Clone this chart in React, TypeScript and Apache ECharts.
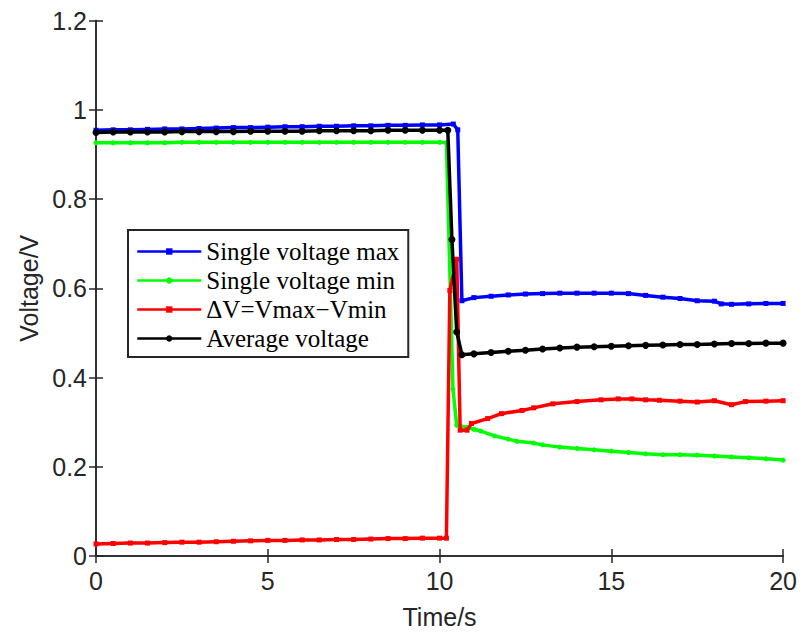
import React, { useEffect, useRef } from "react";
import * as echarts from "echarts";

// [time (s), voltage (V)] readings
const vMax: number[][] = [
  [0, 0.954], [0.5, 0.955], [1, 0.955], [1.5, 0.956], [2, 0.957], [2.5, 0.957], [3, 0.958], [3.5, 0.959],
  [4, 0.96], [4.5, 0.96], [5, 0.961], [5.5, 0.962], [6, 0.962], [6.5, 0.963], [7, 0.963], [7.5, 0.964],
  [8, 0.964], [8.5, 0.965], [9, 0.965], [9.5, 0.966], [10, 0.966], [10.4, 0.968], [10.53, 0.955],
  [10.65, 0.572], [11, 0.579], [11.5, 0.582], [12, 0.585], [12.5, 0.587], [13, 0.588], [13.5, 0.589],
  [14, 0.589], [14.5, 0.589], [15, 0.589], [15.5, 0.588], [16, 0.584], [16.5, 0.58], [17, 0.577],
  [17.5, 0.572], [18, 0.571], [18.2, 0.565], [18.5, 0.564], [19, 0.565], [19.5, 0.566], [20, 0.566],
];

const vMin: number[][] = [
  [0, 0.926], [0.5, 0.926], [1, 0.926], [1.5, 0.926], [2, 0.926], [2.5, 0.927], [3, 0.927], [3.5, 0.927],
  [4, 0.927], [4.5, 0.927], [5, 0.927], [5.5, 0.927], [6, 0.927], [6.5, 0.927], [7, 0.927], [7.5, 0.927],
  [8, 0.927], [8.5, 0.927], [9, 0.927], [9.5, 0.927], [10, 0.927], [10.2, 0.926], [10.39, 0.374],
  [10.5, 0.293], [10.8, 0.288], [11, 0.284], [11.2, 0.28], [11.6, 0.269], [12, 0.262], [12.25, 0.257],
  [12.74, 0.253], [13, 0.249], [13.5, 0.244], [14, 0.241], [14.5, 0.238], [15, 0.235], [15.5, 0.232],
  [16, 0.229], [16.5, 0.227], [17, 0.227], [17.5, 0.226], [18, 0.224], [18.5, 0.222], [19, 0.22],
  [19.5, 0.218], [20, 0.215],
];

const deltaV: number[][] = [
  [0, 0.027], [0.5, 0.028], [1, 0.029], [1.5, 0.029], [2, 0.03], [2.5, 0.031], [3, 0.031], [3.5, 0.032],
  [4, 0.033], [4.5, 0.034], [5, 0.035], [5.5, 0.035], [6, 0.036], [6.5, 0.036], [7, 0.037], [7.5, 0.037],
  [8, 0.038], [8.5, 0.039], [9, 0.039], [9.5, 0.04], [10, 0.04], [10.2, 0.04], [10.3, 0.595],
  [10.5, 0.665], [10.6, 0.282], [10.8, 0.282], [10.93, 0.297], [11.4, 0.308], [11.8, 0.319],
  [12.4, 0.326], [12.74, 0.332], [13.3, 0.341], [14, 0.346], [14.7, 0.35], [15.2, 0.352], [15.6, 0.352],
  [16, 0.35], [16.4, 0.349], [17, 0.347], [17.5, 0.345], [18, 0.348], [18.5, 0.339], [18.9, 0.346],
  [19.5, 0.347], [20, 0.348],
];

const vAvg: number[][] = [
  [0, 0.949], [0.5, 0.95], [1, 0.95], [1.5, 0.95], [2, 0.95], [2.5, 0.951], [3, 0.951], [3.5, 0.951],
  [4, 0.951], [4.5, 0.952], [5, 0.952], [5.5, 0.952], [6, 0.952], [6.5, 0.953], [7, 0.953], [7.5, 0.953],
  [8, 0.953], [8.5, 0.954], [9, 0.954], [9.5, 0.954], [10, 0.954], [10.24, 0.954], [10.36, 0.709],
  [10.5, 0.502], [10.65, 0.451], [11, 0.453], [11.5, 0.456], [12, 0.459], [12.5, 0.461], [13, 0.464],
  [13.5, 0.466], [14, 0.468], [14.5, 0.469], [15, 0.47], [15.5, 0.471], [16, 0.472], [16.5, 0.473],
  [17, 0.474], [17.5, 0.474], [18, 0.475], [18.5, 0.476], [19, 0.476], [19.5, 0.477], [20, 0.477],
];

const seriesNames = ["Single voltage max", "Single voltage min", "\u0394V=Vmax\u2212Vmin", "Average voltage"];
const seriesColors = ["#0000ff", "#00ff00", "#ff0000", "#000000"];
const seriesSymbols = ["rect", "circle", "rect", "circle"];
const seriesData = [vMax, vMin, deltaV, vAvg];

const axisColor = "#262626";
const sans = "'Liberation Sans', Arial, Helvetica, sans-serif";
const serif = "'Liberation Serif', 'Times New Roman', serif";

export default function App() {
  const ref = useRef<HTMLDivElement>(null);

  useEffect(() => {
    if (!ref.current) return;
    const chart = echarts.init(ref.current, undefined, { renderer: "svg" });
    const axisLine = { show: true, lineStyle: { color: axisColor, width: 1.5 } };
    const tick = { show: true, inside: true, length: 7, lineStyle: { color: axisColor, width: 1.5 } };
    chart.setOption({
      animation: false,
      backgroundColor: "#ffffff",
      grid: { left: 88, right: 7, top: 12, bottom: 69, containLabel: false },
      legend: {
        orient: "vertical",
        left: 120,
        top: 222,
        padding: [9, 9, 6, 8],
        itemGap: 4,
        itemWidth: 64,
        itemHeight: 8,
        borderColor: "#262626",
        borderWidth: 2,
        backgroundColor: "#ffffff",
        lineStyle: { width: 2.5 },
        textStyle: { fontFamily: serif, fontSize: 25, color: "#000000" },
        data: seriesNames,
      },
      xAxis: [
        {
          type: "value",
          min: 0,
          max: 20,
          interval: 5,
          name: "Time/s",
          nameLocation: "middle",
          nameGap: 48,
          nameTextStyle: { fontFamily: sans, fontSize: 25, color: axisColor },
          axisLine,
          axisTick: tick,
          axisLabel: { fontFamily: sans, fontSize: 25, color: axisColor, margin: 12 },
          splitLine: { show: false },
        },
        {
          type: "value",
          position: "top",
          min: 0,
          max: 20,
          interval: 5,
          axisLine,
          axisTick: tick,
          axisLabel: { show: false },
          splitLine: { show: false },
        },
      ],
      yAxis: [
        {
          type: "value",
          min: 0,
          max: 1.2,
          interval: 0.2,
          name: "Voltage/V",
          nameLocation: "middle",
          nameGap: 54,
          nameTextStyle: { fontFamily: sans, fontSize: 25, color: axisColor },
          axisLine,
          axisTick: tick,
          axisLabel: { fontFamily: sans, fontSize: 25, color: axisColor, margin: 9 },
          splitLine: { show: false },
        },
        {
          type: "value",
          position: "right",
          min: 0,
          max: 1.2,
          interval: 0.2,
          axisLine,
          axisTick: tick,
          axisLabel: { show: false },
          splitLine: { show: false },
        },
      ],
      series: seriesData.map((d, i) => ({
        name: seriesNames[i],
        type: "line",
        data: d,
        xAxisIndex: 0,
        yAxisIndex: 0,
        symbol: seriesSymbols[i],
        symbolSize: i === 3 ? 7 : 5,
        showSymbol: true,
        showAllSymbol: true,
        lineStyle: { color: seriesColors[i], width: 3.5 },
        itemStyle: { color: seriesColors[i] },
        emphasis: { disabled: true },
        z: 2 + i,
      })),
    });
    return () => chart.dispose();
  }, []);

  return <div ref={ref} style={{ width: 792, height: 626 }} />;
}
